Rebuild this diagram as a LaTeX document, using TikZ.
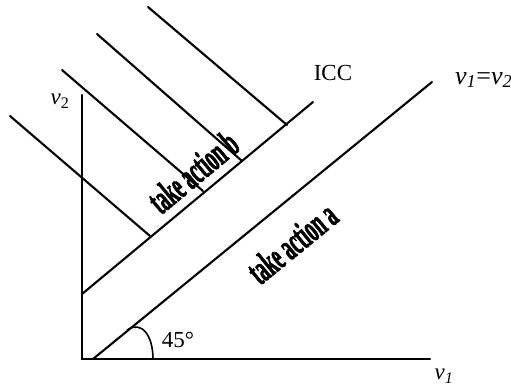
\documentclass[tikz,border=0pt]{standalone}
\usepackage{fontspec}
\setmainfont{Liberation Serif}
\newcommand{\heavytext}[1]{\special{pdf:literal direct 2 Tr 0.9 w}#1\special{pdf:literal direct 0 Tr}}
\begin{document}
\begin{tikzpicture}[x=1pt,y=-1pt,
  ln/.style={line width=2.1pt, line cap=round},
  lbl/.style={font=\fontsize{23}{26}\selectfont, inner sep=0pt},
  vtxt/.style={inner sep=0pt}]
\useasboundingbox (0,0) rectangle (511,388);
% axes
\coordinate (O) at (82,359);
\coordinate (Ytop) at (82,95);
\coordinate (Xend) at (430,359);
% 45 degree line
\coordinate (A0) at (93,359);
\coordinate (A1) at (432,82);
% ICC line
\coordinate (I0) at (82,294);
\coordinate (I1) at (313,102);
% perpendicular lines
\coordinate (P1s) at (10,116);  \coordinate (P1e) at (150,236);
\coordinate (P2s) at (62,70);   \coordinate (P2e) at (203,191);
\coordinate (P3s) at (97,34);   \coordinate (P3e) at (242,161);
\coordinate (P4s) at (148,7);   \coordinate (P4e) at (287,125);
% arc ends
\coordinate (R0) at (127,330);
\coordinate (R1) at (153,359);

\draw[ln] (Ytop) -- (O) -- (Xend);
\draw[ln] (A0) -- (A1);
\draw[ln] (I0) -- (I1);
\draw[ln] (P1s) -- (P1e);
\draw[ln] (P2s) -- (P2e);
\draw[ln] (P3s) -- (P3e);
\draw[ln] (P4s) -- (P4e);
\draw[line width=1.6pt] (R0) .. controls (142,320) and (153,336) .. (R1);

\node[lbl] (v2) at (60,101) {\textit{v}\textsubscript{2}};
\node[lbl] (v1) at (444,376) {\textit{v}\textsubscript{\textit{1}}};
\node[lbl] (icc) at (333,73) {ICC};
\node[lbl, anchor=west, font=\fontsize{26}{28}\selectfont] (eq) at (455,80) {\textit{v}\textsubscript{\textit{1}}=\textit{v}\textsubscript{\textit{2}}};
\node[lbl] (ang) at (178,340) {45°};
\node[vtxt, rotate=39.7] (tb) at (193,172) {\scalebox{0.5}[1]{\bfseries\fontsize{38}{40}\selectfont\heavytext{take action b}}};
\node[vtxt, rotate=39.3] (ta) at (292,243) {\scalebox{0.5}[1]{\bfseries\fontsize{38}{40}\selectfont\heavytext{take action a}}};
\end{tikzpicture}
\end{document}
